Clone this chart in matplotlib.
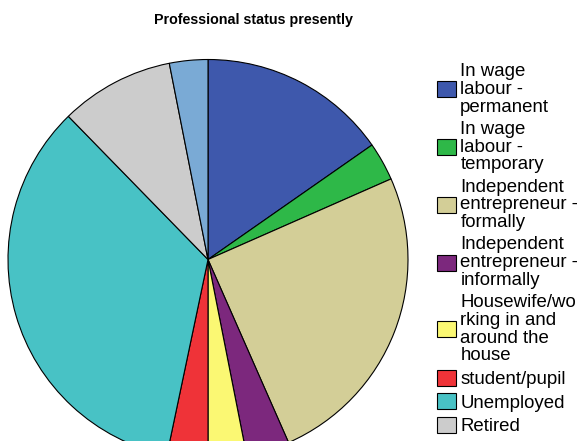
import matplotlib
matplotlib.use("Agg")
import matplotlib.pyplot as plt

plt.rcParams["font.family"] = ["Liberation Sans", "DejaVu Sans"]

# shares in percent, clockwise from 12 o'clock
labels = [
    "In wage\nlabour -\npermanent",
    "In wage\nlabour -\ntemporary",
    "Independent\nentrepreneur -\nformally",
    "Independent\nentrepreneur -\ninformally",
    "Housewife/wo\nrking in and\naround the\nhouse",
    "student/pupil",
    "Unemployed",
    "Retired",
]
shares = [15.3, 3.1, 25.0, 3.5, 3.1, 3.3, 34.4, 9.2, 3.1]
colors = ["#3e58ac", "#2eb848", "#d3ce97", "#7c287d", "#fbf873",
          "#ef3338", "#48c2c5", "#cccccc", "#7aaad5"]

W, H = 580, 441
fig = plt.figure(figsize=(W / 100, H / 100), dpi=100)
ax = fig.add_axes([0, 0, 1, 1])

wedges, _ = ax.pie(shares, colors=colors, startangle=90, counterclock=False,
                   center=(208, H - 259.5), radius=200, frame=True,
                   wedgeprops=dict(edgecolor="black", linewidth=0.8))
ax.set_xlim(0, W)
ax.set_ylim(0, H)
ax.set_aspect("equal")
ax.axis("off")

fig.text(253 / W, 1 - 20 / H, "Professional status presently",
         ha="center", va="center", fontsize=10.3, fontweight="bold")

leg = fig.legend(wedges[:len(labels)], labels, loc="upper left",
                 bbox_to_anchor=(437 / W, 1 - 63 / H), frameon=False,
                 fontsize=13.4, borderpad=0, borderaxespad=0,
                 handlelength=1.0, handleheight=0.95, handletextpad=0.25,
                 labelspacing=0.28)
for t in leg.get_texts():
    t.set_linespacing(1.06)

fig.savefig("out.png", dpi=100)
